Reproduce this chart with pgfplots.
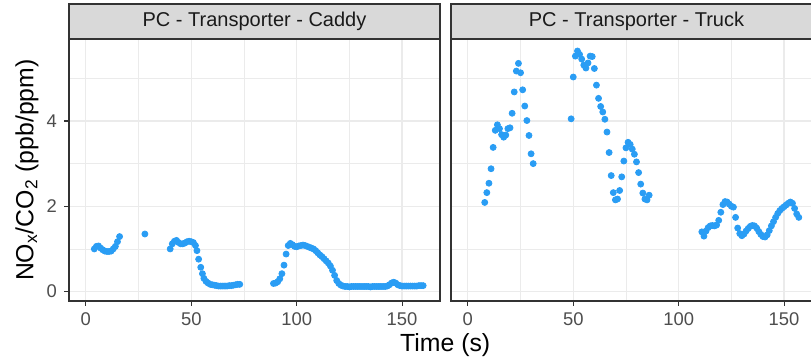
\documentclass[border=0pt]{standalone}
\usepackage{pgfplots}
\pgfplotsset{compat=1.18}
\usepackage{pgfplotstable}
\usepackage{fontspec}
\setmainfont{Liberation Sans}
\definecolor{gray20}{HTML}{333333}
\definecolor{gray85}{HTML}{D9D9D9}
\definecolor{gray92}{HTML}{EBEBEB}
\definecolor{gray30}{HTML}{4D4D4D}
\definecolor{gray10}{HTML}{1A1A1A}
\definecolor{pt}{HTML}{2A9DF4}

\pgfplotstableread{
t y
4 1.00
5 1.06
6 1.07
7 1.02
8 0.98
9 0.95
10 0.94
11 0.94
12 0.95
13 1.00
14 1.06
15 1.17
16 1.29
28 1.35
40 1.00
41 1.12
42 1.18
43 1.20
44 1.15
45 1.12
46 1.12
47 1.14
48 1.17
49 1.18
50 1.17
51 1.15
52 1.08
52.7 0.96
53.5 0.76
54.5 0.57
55.3 0.42
56 0.31
57 0.24
58 0.20
59 0.17
60 0.16
61 0.15
62 0.14
63 0.13
64 0.13
65 0.13
66 0.13
67 0.13
68 0.14
69 0.14
70 0.15
71 0.16
72 0.17
73 0.17
89 0.19
90 0.20
91 0.23
92 0.30
93 0.42
94 0.62
95 0.88
96 1.08
97 1.13
98 1.10
99 1.06
100 1.05
101 1.07
102 1.08
103 1.09
104 1.08
105 1.06
106 1.04
107 1.02
108 1.00
109 0.96
110 0.91
111 0.86
112 0.82
113 0.77
114 0.72
115 0.67
116 0.60
117 0.50
118 0.38
119 0.26
120 0.19
121 0.15
122 0.13
123 0.12
124 0.12
125 0.11
126 0.12
127 0.12
128 0.12
129 0.12
130 0.12
131 0.12
132 0.12
133 0.12
134 0.12
135 0.11
136 0.12
137 0.12
138 0.12
139 0.12
140 0.12
141 0.12
142 0.12
143 0.13
144 0.16
145 0.20
146 0.22
147 0.20
148 0.16
149 0.14
150 0.13
151 0.13
152 0.13
153 0.13
154 0.13
155 0.13
156 0.13
157 0.13
158 0.14
159 0.14
160 0.14
}\caddy

\pgfplotstableread{
t y
8 2.09
9 2.32
10 2.54
11 2.88
12 3.38
13 3.78
14 3.91
15 3.82
16 3.68
17 3.62
18 3.67
19 3.82
20 3.84
21 4.18
22 4.68
23 5.17
24 5.35
25 5.13
26 4.73
27 4.35
28 4.01
29 3.66
30 3.23
31 3.00
49 4.05
50 5.03
51 5.52
52 5.64
53 5.56
54 5.45
55 5.31
56 5.24
57 5.36
58 5.52
59 5.51
60 5.23
61 4.84
62 4.53
63 4.34
64 4.21
65 4.04
66 3.74
67 3.26
68 2.72
69 2.32
70 2.15
71 2.17
72 2.37
73 2.69
74 3.06
75 3.37
76 3.50
77 3.45
78 3.34
79 3.22
80 3.04
81 2.79
82 2.52
83 2.31
84 2.17
85 2.15
86 2.26
111 1.40
112 1.30
113 1.42
114 1.50
115 1.54
116 1.55
117 1.54
118 1.56
119 1.67
120 1.86
121 2.04
122 2.11
123 2.10
124 2.05
125 2.00
126 1.98
127 1.74
128 1.49
129 1.36
130 1.31
131 1.35
132 1.42
133 1.48
134 1.53
135 1.55
136 1.54
137 1.49
138 1.41
139 1.34
140 1.29
141 1.28
142 1.33
143 1.43
144 1.54
145 1.64
146 1.74
147 1.83
148 1.90
149 1.95
150 1.99
151 2.03
152 2.07
153 2.10
154 2.07
155 1.95
156 1.82
157 1.74
}\truck

\pgfplotsset{panel/.style={
  scale only axis, width=185.5pt, height=130.75pt, anchor=south west,
  xmin=-8, xmax=168, ymin=-0.22, ymax=5.91,
  xtick={0,50,100,150}, ytick={0,2,4},
  minor xtick={25,75,125}, minor ytick={1,3,5},
  grid=both,
  major grid style={color=gray92, line width=0.6pt},
  minor grid style={color=gray92, line width=0.3pt},
  axis line style={color=gray20, line width=1pt},
  tick style={color=gray20, line width=0.55pt},
  major tick length=2.5pt, minor tick length=0pt,
  tick align=outside, xtick pos=bottom, ytick pos=left,
  /pgf/number format/assume math mode=true,
  ticklabel style={font=\fontsize{9.2}{11}\selectfont, text=gray30},
}}

\begin{document}
\begin{tikzpicture}
\useasboundingbox (0,0) rectangle (405.5pt,181pt);
\begin{axis}[panel, at={(34.5pt,30.5pt)}]
\addplot[only marks, mark=*, mark size=1.5pt, color=pt] table[x=t,y=y] {\caddy};
\end{axis}
\begin{axis}[panel, at={(225.5pt,30.5pt)}, yticklabels={}, ytick style={draw=none}]
\addplot[only marks, mark=*, mark size=1.5pt, color=pt] table[x=t,y=y] {\truck};
\end{axis}
\draw[gray20, line width=1pt, fill=gray85] (34.5pt,161.25pt) rectangle (220pt,179pt);
\draw[gray20, line width=1pt, fill=gray85] (225.5pt,161.25pt) rectangle (411pt,179pt);
\node[text=gray10, font=\fontsize{10}{12}\selectfont] at (127.25pt,170.1pt) {PC - Transporter - Caddy};
\node[text=gray10, font=\fontsize{10}{12}\selectfont] at (318.25pt,170.1pt) {PC - Transporter - Truck};
\node[font=\fontsize{12.4}{14}\selectfont] at (222.6pt,8.5pt) {Time (s)};
\node[font=\fontsize{12.4}{14}\selectfont, rotate=90] at (13.5pt,95.9pt) {NO\textsubscript{x}/CO\textsubscript{2} (ppb/ppm)};
\end{tikzpicture}
\end{document}
